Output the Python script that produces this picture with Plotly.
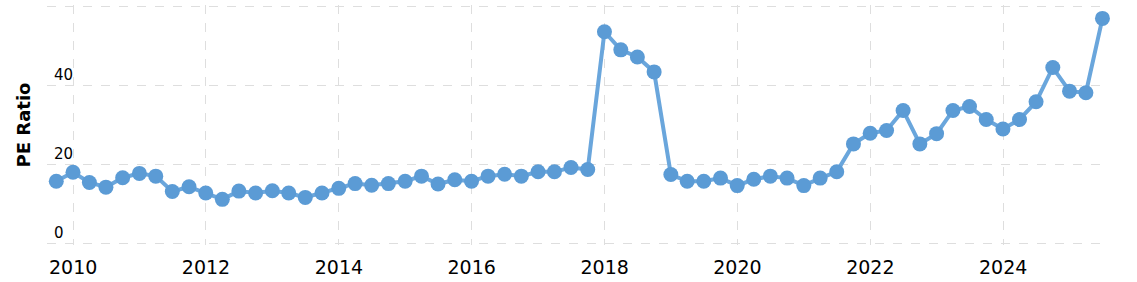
import plotly.graph_objects as go
import pandas as pd

dates = pd.date_range("2009-09-30", periods=64, freq="QE").strftime("%Y-%m-%d").tolist()
pe_ratio = [
    15.7, 18.0, 15.4, 14.2, 16.6, 17.7, 17.0, 13.1, 14.3, 12.7,
    11.1, 13.2, 12.7, 13.3, 12.7, 11.6, 12.7, 13.9, 15.1, 14.7,
    15.1, 15.7, 17.0, 15.0, 16.1, 15.7, 17.0, 17.5, 17.0, 18.1,
    18.1, 19.2, 18.7, 53.7, 49.1, 47.3, 43.5, 17.4, 15.7, 15.7,
    16.5, 14.6, 16.2, 17.0, 16.5, 14.6, 16.5, 18.1, 25.2, 27.9,
    28.6, 33.7, 25.2, 27.8, 33.7, 34.7, 31.4, 29.0, 31.4, 35.9,
    44.6, 38.6, 38.2, 57.1,
]
y_ticks = [0, 20, 40, 60]
y_tick_text = ["0", "20", "40", ""]
x_ticks = ["2010-01-01", "2012-01-01", "2014-01-01", "2016-01-01",
           "2018-01-01", "2020-01-01", "2022-01-01", "2024-01-01"]
x_tick_text = ["2010", "2012", "2014", "2016", "2018", "2020", "2022", "2024"]

fig = go.Figure()
fig.add_trace(go.Scatter(
    x=dates, y=pe_ratio, mode="lines+markers",
    line=dict(color="#6aa6dc", width=4),
    marker=dict(color="#5b9bd5", size=15),
    cliponaxis=False,
    showlegend=False,
))

fig.update_layout(
    width=1137, height=282,
    margin=dict(l=47, r=32, t=5, b=37),
    paper_bgcolor="white", plot_bgcolor="white",
    font=dict(family="DejaVu Sans, Verdana, sans-serif", color="#000"),
    xaxis=dict(
        range=["2009-08-10", "2025-07-14"],
        tickvals=x_ticks, ticktext=x_tick_text,
        tickfont=dict(size=19, color="#000"),
        ticklabelstandoff=9,
        showgrid=True, gridcolor="#dedede", griddash="dash", gridwidth=1,
        zeroline=False, showline=False, ticks="",
    ),
    yaxis=dict(
        range=[-0.5, 60.5],
        tickvals=y_ticks, ticktext=y_tick_text,
        tickfont=dict(size=15, color="#000"),
        ticklabelposition="inside top",
        ticklabelstandoff=4,
        showgrid=True, gridcolor="#dedede", griddash="dash", gridwidth=1,
        zeroline=False, showline=False, ticks="",
        title=dict(text="<b>PE Ratio</b>", font=dict(size=18, color="#000"), standoff=18),
    ),
)

fig.write_html("out.html")
